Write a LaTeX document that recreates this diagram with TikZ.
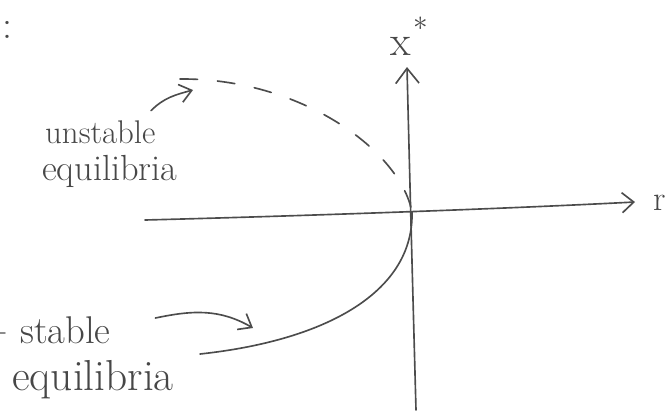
\documentclass[tikz,border=0pt]{standalone}
\usepackage{tikz}
\usetikzlibrary{arrows.meta,positioning,calc}
\tikzset{
bfpencil/.style={draw=black!70,line width=1.4pt,line cap=round},
bfaxis/.style={bfpencil,-{Straight Barb[length=4.5mm,width=7mm]}},
bfaxisr/.style={bfpencil,-{Straight Barb[length=3.5mm,width=6mm]}},
bfunstable/.style={bfpencil,dash pattern=on 15pt off 17pt},
bfstable/.style={bfpencil},
bfpointer/.style={bfpencil,-{Straight Barb[length=3.5mm,width=5.5mm]}},
bfword/.style={text=black!72,inner sep=0pt,anchor=base west},
bfaxislabel/.style={text=black!72,inner sep=0pt}
}
\begin{document}
\begin{tikzpicture}[
x=0.03cm,
y=-0.03cm
]
\useasboundingbox (0,0) rectangle (669,412);
% axes
\coordinate (rlow) at (145,220);
\coordinate (rhigh) at (635,202);
\coordinate (xlow) at (416,410);
\coordinate (xhigh) at (407,67);
\coordinate (fold) at (412,212);
\draw[bfaxisr] (rlow) .. controls (300,216) and (500,209) .. (rhigh);
\draw[bfaxis] (xlow) .. controls (413,300) and (409,150) .. (xhigh);
\node[bfaxislabel,font=\fontsize{30}{30}\selectfont] (rname) at (660,203) {r};
\node[bfaxislabel,font=\fontsize{36}{36}\selectfont,anchor=base] (xname) at (401,55) {x};
\node[bfaxislabel,font=\fontsize{44}{44}\selectfont] (xstar) at (421,24) {$*$};
\node[bfaxislabel,font=\fontsize{34}{34}\selectfont] (colon) at (7,30) {:};
\draw[bfpencil,draw=black!45] (0,333) -- (5,333);
% branches
\draw[bfunstable] (180,79) .. controls (300,78) and (400,150) .. (fold);
\draw[bfstable] (fold) .. controls (414,290) and (330,340) .. (200,354);
% labels
\node[bfword,font=\fontsize{28}{28}\selectfont] (unstword) at (45,143) {unstable};
\node[bfword,font=\fontsize{31}{31}\selectfont] (unsteq) at (42,180) {equilibria};
\node[bfword,font=\fontsize{33}{33}\selectfont] (stabword) at (20,343) {stable};
\node[bfword,font=\fontsize{37}{37}\selectfont] (stabeq) at (12,390) {equilibria};
\coordinate (unsttip) at (193,90);
\coordinate (stabtip) at (253,328);
\draw[bfpointer] ([xshift=-4pt,yshift=8pt]unstword.north east) to[out=45,in=195] (unsttip);
\draw[bfpointer] ([xshift=38pt,yshift=10pt]stabword.east) to[out=12,in=150] (stabtip);
\end{tikzpicture}
\end{document}
